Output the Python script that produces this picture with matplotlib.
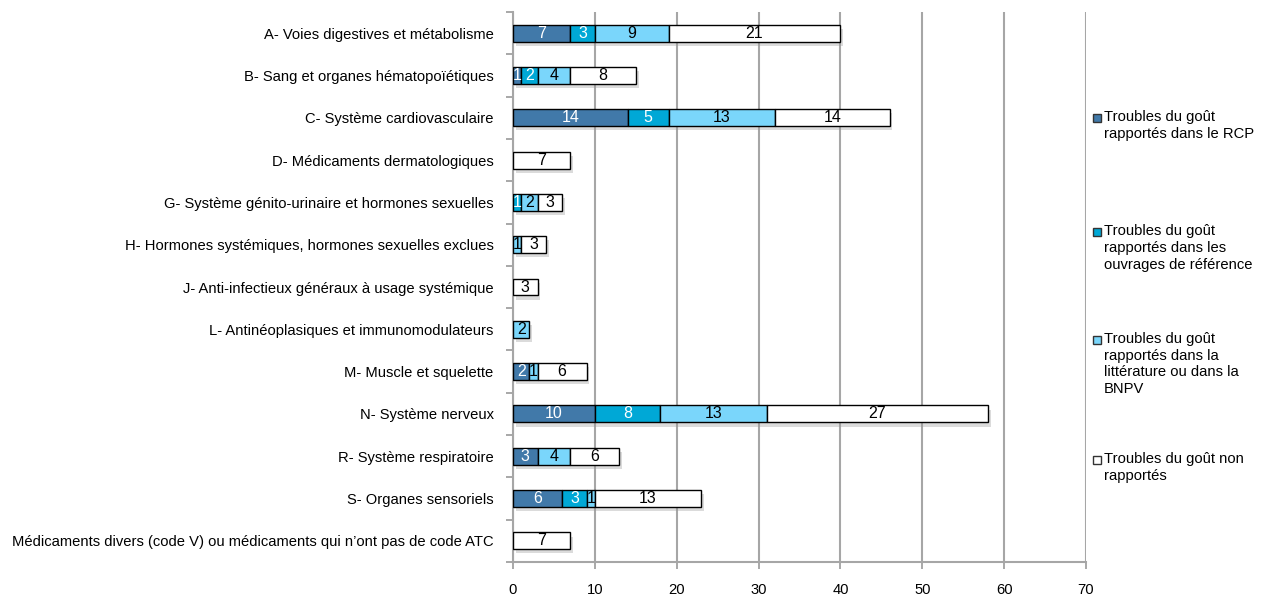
import matplotlib
matplotlib.use('Agg')
import matplotlib.pyplot as plt
import matplotlib.patheffects as pe
from matplotlib.patches import Rectangle
import numpy as np

plt.rcParams['font.family'] = ['Liberation Sans', 'DejaVu Sans']

categories = [
    'A- Voies digestives et métabolisme',
    'B- Sang et organes hématopoïétiques',
    'C- Système cardiovasculaire',
    'D- Médicaments dermatologiques',
    'G- Système génito-urinaire et hormones sexuelles',
    'H- Hormones systémiques, hormones sexuelles exclues',
    'J- Anti-infectieux généraux à usage systémique',
    'L- Antinéoplasiques et immunomodulateurs',
    'M- Muscle et squelette',
    'N- Système nerveux',
    'R- Système respiratoire',
    'S- Organes sensoriels',
    'Médicaments divers (code V) ou médicaments qui n’ont pas de code ATC',
]
rcp = [7, 1, 14, 0, 0, 0, 0, 0, 2, 10, 3, 6, 0]
ouvrages = [3, 2, 5, 0, 1, 0, 0, 0, 0, 8, 0, 3, 0]
litterature = [9, 4, 13, 0, 2, 1, 0, 2, 1, 13, 4, 1, 0]
non_rapportes = [21, 8, 14, 7, 3, 3, 3, 0, 6, 27, 6, 13, 7]

series = [
    ('Troubles du goût\nrapportés dans le RCP', rcp, '#4179a9', 'white'),
    ('Troubles du goût\nrapportés dans les\nouvrages de référence', ouvrages, '#00a8d6', 'white'),
    ('Troubles du goût\nrapportés dans la\nlittérature ou dans la\nBNPV', litterature, '#7ad6fb', 'black'),
    ('Troubles du goût non\nrapportés', non_rapportes, 'white', 'black'),
]
# top of each legend entry, in figure pixels from the top
legend_tops = [110, 224, 332, 452]

W, H = 1271, 598
fig = plt.figure(figsize=(W / 100, H / 100), dpi=100)
ax = fig.add_axes([513 / W, 36 / H, 573 / W, 550 / H])

y = np.arange(len(categories))
left = np.zeros(len(categories))
shadow = [pe.SimplePatchShadow(offset=(2, -3), shadow_rgbFace='#999999', alpha=0.35), pe.Normal()]
for label, vals, color, tcolor in series:
    vals = np.array(vals)
    bars = ax.barh(y, vals, left=left, height=0.4, color=color, edgecolor='black',
                   linewidth=1, zorder=3)
    for b in bars:
        if b.get_width() == 0:
            b.set_visible(False)
        else:
            b.set_path_effects(shadow)
    for yi, v, l in zip(y, vals, left):
        if v > 0:
            ax.text(l + v / 2, yi, str(v), ha='center', va='center', fontsize=11.5,
                    color=tcolor, zorder=4)
    left = left + vals

ax.set_xlim(0, 70)
ax.set_ylim(len(categories) - 0.5, -0.5)
ax.set_xticks(range(0, 71, 10))
ax.set_yticks(y)
ax.set_yticklabels(categories, fontsize=10.6)
ax.set_yticks(np.arange(-0.5, len(categories)), minor=True)
ax.tick_params(axis='y', which='major', length=0, pad=14)
ax.tick_params(axis='y', which='minor', length=5, color='#999999', width=1.2)
ax.tick_params(axis='x', length=5, color='#999999', width=1.2, labelsize=10.6, pad=10)
ax.grid(axis='x', color='#a6a6a6', linewidth=1.5, zorder=0)
for s in ['top', 'right']:
    ax.spines[s].set_visible(False)
for s in ['left', 'bottom']:
    ax.spines[s].set_color('#a6a6a6')
    ax.spines[s].set_linewidth(1.5)

# legend drawn by hand: squares aligned with the first line of each entry
for (label, vals, color, tcolor), top in zip(series, legend_tops):
    fig.patches.append(Rectangle((1093 / W, 1 - (top + 12) / H), 8 / W, 8 / H,
                                 transform=fig.transFigure, facecolor=color,
                                 edgecolor='#333333', linewidth=1))
    fig.text(1104 / W, 1 - top / H, label, ha='left', va='top', fontsize=10.6,
             linespacing=1.25)

fig.savefig('out.png', dpi=100)
